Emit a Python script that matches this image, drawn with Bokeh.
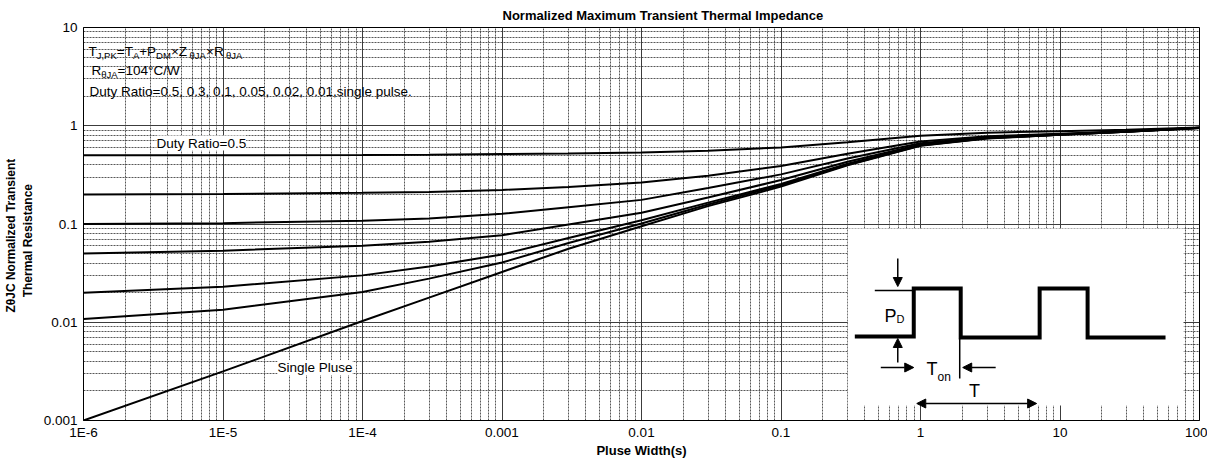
import math
from bokeh.plotting import figure
from bokeh.models import FixedTicker, Label, Arrow, NormalHead, Range1d
from bokeh.embed import file_html
from bokeh.resources import INLINE

# ---------------- data ----------------
pulse_width = [1e-6, 1e-5, 1e-4, 3e-4, 1e-3, 3e-3, 1e-2, 3e-2, 0.1, 0.3, 1, 3, 10, 30, 100]
duty_050 = [0.500, 0.501, 0.503, 0.507, 0.515, 0.523, 0.535, 0.558, 0.600, 0.680, 0.790, 0.850, 0.880, 0.910, 0.960]
duty_030 = [0.200, 0.202, 0.208, 0.212, 0.222, 0.238, 0.264, 0.310, 0.390, 0.520, 0.690, 0.780, 0.830, 0.880, 0.955]
duty_010 = [0.100, 0.102, 0.108, 0.114, 0.127, 0.148, 0.176, 0.232, 0.320, 0.465, 0.665, 0.765, 0.820, 0.875, 0.953]
duty_005 = [0.050, 0.0535, 0.060, 0.066, 0.077, 0.099, 0.130, 0.186, 0.280, 0.430, 0.645, 0.755, 0.815, 0.872, 0.952]
duty_002 = [0.020, 0.023, 0.030, 0.037, 0.049, 0.072, 0.109, 0.165, 0.255, 0.410, 0.635, 0.750, 0.812, 0.870, 0.951]
duty_001 = [0.0108, 0.0134, 0.0203, 0.0278, 0.0405, 0.064, 0.101, 0.158, 0.248, 0.400, 0.630, 0.745, 0.810, 0.869, 0.950]
single_pulse = [0.001, 0.00316, 0.0103, 0.0178, 0.0325, 0.056, 0.095, 0.152, 0.240, 0.395, 0.625, 0.740, 0.808, 0.868, 0.950]
series = [duty_050, duty_030, duty_010, duty_005, duty_002, duty_001, single_pulse]

x_tick_values = [1e-6, 1e-5, 1e-4, 1e-3, 1e-2, 1e-1, 1, 10, 100]
x_tick_labels = ["1E-6", "1E-5", "1E-4", "0.001", "0.01", "0.1", "1", "10", "100"]
y_tick_values = [0.001, 0.01, 0.1, 1, 10]
y_tick_labels = ["0.001", "0.01", "0.1", "1", "10"]

# ---------------- layout ----------------
W, H = 1207, 460
FL, FT, FR, FB = 82, 27, 1199, 420          # frame edges in canvas px
FONT = "Liberation Sans"

p = figure(width=W, height=H, x_axis_type="log", y_axis_type="log",
           x_range=Range1d(1e-6, 100), y_range=Range1d(1e-3, 10),
           output_backend="svg", toolbar_location=None,
           min_border_left=FL, min_border_right=W - FR,
           min_border_top=FT, min_border_bottom=H - FB)
p.background_fill_color = "white"
p.border_fill_color = "white"
p.outline_line_color = "black"
p.outline_line_width = 1

p.title.text = "Normalized Maximum Transient Thermal Impedance"
p.title.text_font = FONT
p.title.text_font_size = "13px"
p.title.text_font_style = "bold"
p.title.text_color = "black"
p.title.align = "left"
p.title.offset = 419
p.title.standoff = 9

x_minor = [k * 10.0 ** e for e in range(-6, 2) for k in range(2, 10)]
y_minor = [k * 10.0 ** e for e in range(-3, 1) for k in range(2, 10)]
p.xaxis.ticker = FixedTicker(ticks=x_tick_values, minor_ticks=x_minor)
p.yaxis.ticker = FixedTicker(ticks=y_tick_values, minor_ticks=y_minor)
p.xaxis.major_label_overrides = {v: s for v, s in zip(x_tick_values, x_tick_labels)}
p.yaxis.major_label_overrides = {v: s for v, s in zip(y_tick_values, y_tick_labels)}

for ax in (p.xaxis[0], p.yaxis[0]):
    ax.major_tick_in = 0
    ax.major_tick_out = 0
    ax.minor_tick_in = 0
    ax.minor_tick_out = 0
    ax.axis_line_color = "black"
    ax.major_label_text_font = FONT
    ax.major_label_text_font_size = "13.5px"
    ax.major_label_text_color = "black"
    ax.axis_label_text_font = FONT
    ax.axis_label_text_font_style = "bold"
    ax.axis_label_text_color = "black"

p.xaxis.major_label_standoff = 4
p.xaxis.axis_label = "Pluse Width(s)"
p.xaxis.axis_label_text_font_size = "13px"
p.xaxis.axis_label_standoff = 0

NB = "\u00a0"
p.yaxis.major_label_standoff = 6
p.yaxis.axis_label = ("Z\u03b8JC Normalized Transient" + NB * 7 + "\n"
                      + "Thermal Resistance" + NB * 10)
p.yaxis.axis_label_text_font_size = "12px"
p.yaxis.axis_label_standoff = 6

for g in (p.xgrid[0], p.ygrid[0]):
    g.grid_line_color = "#3c3c3c"
    g.grid_line_width = 1
    g.minor_grid_line_color = "#3a3a3a"
    g.minor_grid_line_dash = "2 1"
    g.minor_grid_line_width = 1
    g.minor_grid_line_alpha = 0.85

# ---------------- helpers for the drawing / text positions ----------------
DX = (FR - FL) / 8.0
DY = (FB - FT) / 4.0

def dx(px):
    return 10 ** (-6 + (px - FL) / DX)

def dy(py):
    return 10 ** (1 - (py - FT) / DY)

def lab(rx, ry, text, size="13.5px", bold=False, align="left", baseline="middle",
        angle=0.0, bg=None):
    kw = dict(x=rx - FL, y=FB - ry, x_units="screen", y_units="screen", text=text,
              text_font=FONT, text_font_size=size, text_color="black",
              text_align=align, text_baseline=baseline, angle=angle,
              text_font_style="bold" if bold else "normal")
    if bg:
        kw["background_fill_color"] = bg
    p.add_layout(Label(**kw))

# ---------------- inset (white box + pulse drawing) ----------------
p.quad(left=dx(847), right=dx(1183), top=dy(228), bottom=dy(405),
       fill_color="white", line_color=None)

wave_px = [854, 913, 913, 960, 960, 1039, 1039, 1087, 1087, 1165]
wave_py = [336, 336, 288, 288, 337, 337, 288, 288, 337, 337]
p.line([dx(v) for v in wave_px], [dy(v) for v in wave_py], line_width=4,
       color="black", line_join="miter")
p.line([dx(874), dx(913)], [dy(290), dy(290)], line_width=1.5, color="black")
p.line([dx(959), dx(959)], [dy(337), dy(378)], line_width=1.5, color="black")

def arrow(x0, y0, x1, y1, both=False):
    head = lambda: NormalHead(size=9, fill_color="black", line_color="black", line_width=1)
    kw = dict(x_start=dx(x0), y_start=dy(y0), x_end=dx(x1), y_end=dy(y1),
              line_width=1.5, line_color="black", end=head())
    if both:
        kw["start"] = head()
    p.add_layout(Arrow(**kw))

arrow(897, 258, 897, 286)
arrow(897, 362, 897, 338)
arrow(880, 367, 913, 367)
arrow(995, 367, 962, 367)
arrow(916, 403, 1036, 403, both=True)

lab(883, 315, "P", size="18px")
lab(895, 318.5, "D", size="11px")
lab(925, 368.5, "T", size="18px")
lab(936, 376, "on", size="12px")
lab(967.5, 390.5, "T", size="18px")

# ---------------- curves ----------------
for s in series:
    p.line(pulse_width, s, line_width=2, color="black")

# ---------------- texts ----------------
# formula line 1
Y1, S1 = 51.0, 55.0
lab(87.0, Y1, "T")
lab(95.2, S1, "J,PK", size="9.5px")
lab(115.3, Y1, "=T")
lab(131.4, S1, "A", size="9.5px")
lab(137.7, Y1, "+P")
lab(154.6, S1, "DM", size="9.5px")
lab(169.4, Y1, "\u00d7Z")
lab(188.0, S1, "\u03b8JA", size="9.5px")
lab(204.5, Y1, "\u00d7R")
lab(224.5, S1, "\u03b8JA", size="9.5px")
# line 2
Y2, S2 = 70.0, 73.5
lab(90.0, Y2, "R")
lab(99.7, S2, "\u03b8JA", size="9.5px")
lab(116.1, Y2, "=104\u00b0C/W")
# line 3
lab(88.0, 90.5, "Duty Ratio=0.5, 0.3, 0.1, 0.05, 0.02, 0.01,single pulse.")

lab(155, 142.5, "Duty Ratio=0.5", bg="white")
lab(276, 367, "Single Pluse", bg="white")

open("out.html", "w").write(file_html(p, INLINE))
